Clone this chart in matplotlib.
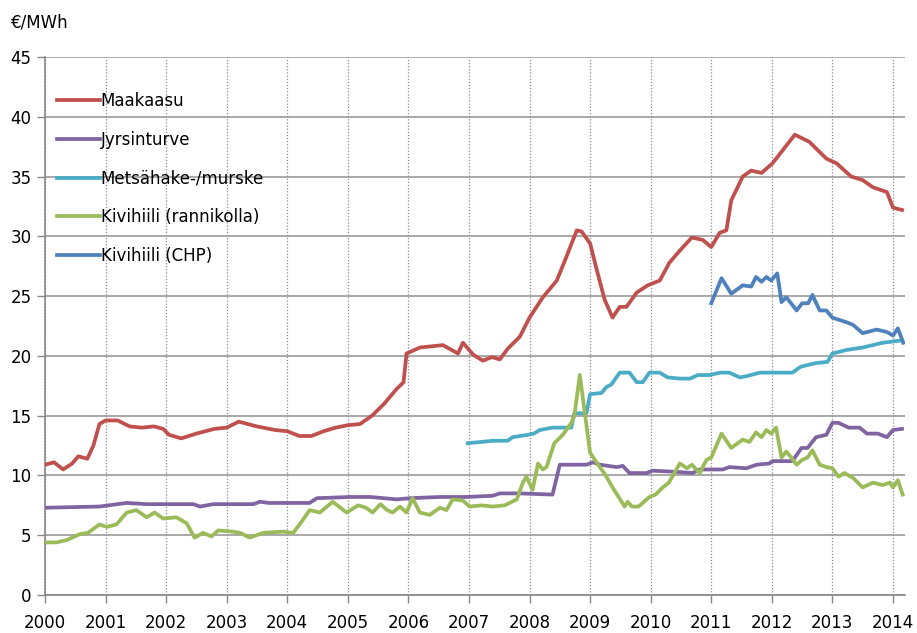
import matplotlib.pyplot as plt

# decimal year / €/MWh
gas_x = [2000.0, 2000.15, 2000.3, 2000.45, 2000.55, 2000.7, 2000.8, 2000.9, 2001.0, 2001.2,
         2001.4, 2001.6, 2001.8, 2001.95, 2002.05, 2002.25, 2002.5, 2002.8, 2003.0, 2003.2,
         2003.5, 2003.8, 2004.0, 2004.2, 2004.4, 2004.6, 2004.8, 2005.0, 2005.2, 2005.4,
         2005.6, 2005.8, 2005.92, 2005.97, 2006.19, 2006.57, 2006.82, 2006.9, 2007.07, 2007.23,
         2007.38, 2007.51, 2007.64, 2007.84, 2008.0, 2008.22, 2008.45, 2008.61, 2008.78, 2008.86,
         2009.0, 2009.11, 2009.24, 2009.37, 2009.49, 2009.6, 2009.77, 2009.95, 2010.15, 2010.31,
         2010.48, 2010.68, 2010.86, 2011.0, 2011.14, 2011.25, 2011.33, 2011.52, 2011.66, 2011.83,
         2012.01, 2012.18, 2012.38, 2012.62, 2012.9, 2013.07, 2013.31, 2013.5, 2013.67, 2013.9,
         2014.0, 2014.15]
gas_y = [10.9, 11.1, 10.5, 11.0, 11.6, 11.4, 12.5, 14.3, 14.6, 14.6,
         14.1, 14.0, 14.1, 13.9, 13.4, 13.1, 13.5, 13.9, 14.0, 14.5,
         14.1, 13.8, 13.7, 13.3, 13.3, 13.7, 14.0, 14.2, 14.3, 15.0,
         16.0, 17.2, 17.8, 20.2, 20.7, 20.9, 20.2, 21.1, 20.1, 19.6,
         19.9, 19.7, 20.6, 21.6, 23.2, 24.9, 26.3, 28.3, 30.5, 30.4,
         29.4, 27.2, 24.7, 23.2, 24.1, 24.1, 25.3, 25.9, 26.3, 27.8,
         28.8, 29.9, 29.7, 29.1, 30.3, 30.5, 33.0, 35.0, 35.5, 35.3,
         36.1, 37.2, 38.5, 37.9, 36.5, 36.1, 35.0, 34.7, 34.1, 33.7,
         32.4, 32.2]

peat_x = [2000.0, 2000.9, 2001.35, 2001.68, 2002.0, 2002.45, 2002.56, 2002.78, 2003.44, 2003.55,
          2003.7, 2004.37, 2004.49, 2005.04, 2005.37, 2005.81, 2006.03, 2006.52, 2006.96, 2007.39,
          2007.51, 2007.84, 2008.38, 2008.5, 2008.94, 2009.05, 2009.16, 2009.44, 2009.54, 2009.65,
          2009.93, 2010.03, 2010.43, 2010.69, 2010.81, 2011.19, 2011.3, 2011.58, 2011.75, 2011.96,
          2012.01, 2012.34, 2012.49, 2012.59, 2012.73, 2012.9, 2013.0, 2013.1, 2013.27, 2013.45,
          2013.57, 2013.75, 2013.9, 2014.0, 2014.15]
peat_y = [7.3, 7.4, 7.7, 7.6, 7.6, 7.6, 7.4, 7.6, 7.6, 7.8,
          7.7, 7.7, 8.1, 8.2, 8.2, 8.0, 8.1, 8.2, 8.2, 8.3,
          8.5, 8.5, 8.4, 10.9, 10.9, 11.1, 10.9, 10.7, 10.8, 10.2,
          10.2, 10.4, 10.3, 10.2, 10.5, 10.5, 10.7, 10.6, 10.9, 11.0,
          11.2, 11.2, 12.3, 12.3, 13.2, 13.4, 14.4, 14.4, 14.0, 14.0,
          13.5, 13.5, 13.2, 13.8, 13.9]

chips_x = [2006.98, 2007.2, 2007.39, 2007.64, 2007.72, 2007.97, 2008.07, 2008.17, 2008.38, 2008.69,
           2008.74, 2008.94, 2009.0, 2009.19, 2009.27, 2009.35, 2009.49, 2009.65, 2009.77, 2009.87,
           2009.98, 2010.15, 2010.28, 2010.48, 2010.65, 2010.78, 2010.97, 2011.15, 2011.3, 2011.47,
           2011.58, 2011.8, 2012.0, 2012.34, 2012.48, 2012.73, 2012.92, 2013.0, 2013.24, 2013.5,
           2013.83, 2014.15]
chips_y = [12.7, 12.8, 12.9, 12.9, 13.2, 13.4, 13.5, 13.8, 14.0, 14.0,
           15.2, 15.2, 16.8, 16.9, 17.4, 17.6, 18.6, 18.6, 17.8, 17.8,
           18.6, 18.6, 18.2, 18.1, 18.1, 18.4, 18.4, 18.6, 18.6, 18.2,
           18.3, 18.6, 18.6, 18.6, 19.1, 19.4, 19.5, 20.2, 20.5, 20.7,
           21.1, 21.3]

coal_x = [2000.0, 2000.19, 2000.36, 2000.58, 2000.71, 2000.9, 2001.02, 2001.18, 2001.35, 2001.51,
          2001.68, 2001.81, 2001.95, 2002.17, 2002.34, 2002.47, 2002.61, 2002.75, 2002.86, 2003.1,
          2003.22, 2003.38, 2003.6, 2003.93, 2004.1, 2004.26, 2004.37, 2004.54, 2004.75, 2004.98,
          2005.17, 2005.3, 2005.41, 2005.54, 2005.65, 2005.74, 2005.86, 2005.97, 2006.07, 2006.19,
          2006.35, 2006.52, 2006.63, 2006.73, 2006.9, 2007.01, 2007.2, 2007.39, 2007.59, 2007.79,
          2007.89, 2007.95, 2008.05, 2008.14, 2008.22, 2008.28, 2008.41, 2008.55, 2008.69, 2008.74,
          2008.83, 2009.0, 2009.08, 2009.27, 2009.37, 2009.57, 2009.62, 2009.69, 2009.8, 2009.98,
          2010.08, 2010.2, 2010.3, 2010.48, 2010.6, 2010.68, 2010.81, 2010.92, 2011.0, 2011.17,
          2011.33, 2011.52, 2011.63, 2011.74, 2011.83, 2011.91, 2011.99, 2012.07, 2012.16, 2012.24,
          2012.32, 2012.41, 2012.5, 2012.59, 2012.67, 2012.79, 2012.9, 2013.0, 2013.1, 2013.2,
          2013.34, 2013.5, 2013.67, 2013.83, 2013.95, 2014.0, 2014.08, 2014.16]
coal_y = [4.4, 4.4, 4.6, 5.1, 5.2, 5.9, 5.7, 5.9, 6.9, 7.1,
          6.5, 6.9, 6.4, 6.5, 6.0, 4.8, 5.2, 4.9, 5.4, 5.3,
          5.2, 4.8, 5.2, 5.3, 5.2, 6.3, 7.1, 6.9, 7.8, 6.9,
          7.5, 7.3, 6.9, 7.6, 7.1, 6.9, 7.4, 6.9, 8.1, 6.9,
          6.7, 7.3, 7.1, 8.0, 7.9, 7.4, 7.5, 7.4, 7.5, 8.0,
          9.4, 9.9, 8.8, 11.0, 10.5, 10.7, 12.7, 13.4, 14.4, 15.0,
          18.4, 11.9, 11.3, 9.9, 9.0, 7.4, 7.8, 7.4, 7.4, 8.2,
          8.4, 9.0, 9.4, 11.0, 10.6, 10.9, 10.2, 11.3, 11.5, 13.5,
          12.3, 13.0, 12.8, 13.6, 13.2, 13.8, 13.5, 14.0, 11.5, 12.0,
          11.5, 10.9, 11.3, 11.5, 12.1, 10.9, 10.7, 10.6, 9.9, 10.2,
          9.8, 9.0, 9.4, 9.2, 9.4, 9.0, 9.6, 8.4]

chp_x = [2011.0, 2011.17, 2011.33, 2011.52, 2011.66, 2011.74, 2011.83, 2011.91, 2011.99, 2012.09,
         2012.16, 2012.24, 2012.41, 2012.5, 2012.6, 2012.67, 2012.79, 2012.9, 2013.0, 2013.24,
         2013.34, 2013.5, 2013.73, 2013.9, 2014.0, 2014.08, 2014.17]
chp_y = [24.4, 26.5, 25.2, 25.9, 25.8, 26.6, 26.2, 26.6, 26.3, 26.9,
         24.5, 24.9, 23.8, 24.4, 24.4, 25.1, 23.8, 23.8, 23.2, 22.8,
         22.6, 21.9, 22.2, 22.0, 21.7, 22.3, 21.1]

years = list(range(2000, 2015))

fig = plt.figure(figsize=(9.17, 6.33), dpi=100)
ax = fig.add_axes([0.049, 0.060, 0.938, 0.850])

ax.plot(gas_x, gas_y, color='#C0504D', lw=2.7, label='Maakaasu', zorder=3)
ax.plot(peat_x, peat_y, color='#8064A2', lw=2.7, label='Jyrsinturve', zorder=3)
ax.plot(chips_x, chips_y, color='#4BACC6', lw=2.7, label='Metsähake-/murske', zorder=3)
ax.plot(coal_x, coal_y, color='#9BBB59', lw=2.7, label='Kivihiili (rannikolla)', zorder=3)
ax.plot(chp_x, chp_y, color='#4F81BD', lw=2.7, label='Kivihiili (CHP)', zorder=3)

ax.set_xlim(2000, 2014.2)
ax.set_ylim(0, 45)
ax.set_xticks(years)
ax.set_yticks(range(0, 46, 5))
ax.tick_params(labelsize=12, color='#888888', length=6, width=1)
ax.tick_params(axis='x', pad=8)

ax.grid(axis='y', color='#9a9a9a', lw=1.2, ls='-')
ax.grid(axis='x', color='#8a8a9a', lw=0.9, ls=(0, (1, 1.5)))
ax.set_axisbelow(True)
for s in ['top', 'right']:
    ax.spines[s].set_visible(False)
for s in ['left', 'bottom']:
    ax.spines[s].set_color('#888888')
    ax.spines[s].set_linewidth(1.2)

ax.legend(loc='upper left', bbox_to_anchor=(0.0, 0.957), frameon=False, fontsize=12,
          handlelength=2.6, handletextpad=0.05, labelspacing=1.25, borderaxespad=0.3)

fig.text(0.012, 0.965, '€/MWh', fontsize=12, va='center')

fig.savefig('out.png', dpi=100)
